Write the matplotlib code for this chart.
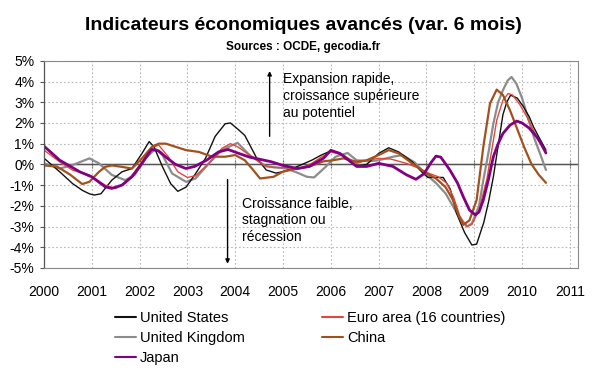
import matplotlib
matplotlib.use("Agg")
import matplotlib.pyplot as plt
from matplotlib.ticker import FuncFormatter

plt.rcParams['font.family'] = ['Liberation Sans', 'DejaVu Sans']

# ---------------- data ----------------
years = list(range(2000, 2012))
y_ticks = list(range(-5, 6))

us_t = [2000.0, 2000.33, 2000.6, 2000.8, 2000.95, 2001.05, 2001.19, 2001.42, 2001.63, 2001.84, 2002.05,
        2002.2, 2002.3, 2002.48, 2002.65, 2002.8, 2002.97, 2003.17, 2003.38, 2003.58, 2003.79, 2003.9,
        2004.07, 2004.2, 2004.45, 2004.65, 2004.85, 2005.0, 2005.2, 2005.4, 2005.6, 2005.8, 2006.0,
        2006.26, 2006.54, 2006.75, 2007.0, 2007.21, 2007.42, 2007.7, 2007.93, 2008.03, 2008.35,
        2008.5, 2008.63, 2008.8, 2008.95, 2009.05, 2009.2, 2009.3, 2009.4, 2009.5, 2009.6, 2009.68,
        2009.76, 2009.9, 2010.03, 2010.15, 2010.24, 2010.38, 2010.5]
us_v = [0.3, -0.36, -0.93, -1.25, -1.42, -1.48, -1.42, -0.76, -0.36, -0.2, 0.53,
        1.1, 0.85, -0.12, -0.93, -1.3, -1.1, -0.45, 0.3, 1.35, 1.96, 2.0,
        1.67, 1.4, 0.3, -0.27, -0.42, -0.35, -0.2, 0.0, 0.2, 0.45, 0.65,
        0.45, -0.1, 0.0, 0.53, 0.8, 0.6, 0.13, -0.43, -0.63, -0.63,
        -1.2, -2.36, -3.3, -3.89, -3.85, -2.8, -1.8, -0.6, 0.9, 2.4, 3.0,
        3.34, 3.2, 2.78, 2.3, 1.81, 1.2, 0.69]

euro_t = [2000.0, 2000.33, 2000.6, 2000.95, 2001.28, 2001.5, 2001.7, 2001.9, 2002.12, 2002.3, 2002.4,
          2002.6, 2002.8, 2003.0, 2003.17, 2003.45, 2003.72, 2003.9, 2004.05, 2004.3, 2004.6, 2004.8,
          2005.0, 2005.35, 2005.6, 2005.8, 2006.0, 2006.26, 2006.54, 2006.75, 2007.0, 2007.25, 2007.58,
          2007.86, 2008.05, 2008.25, 2008.42, 2008.57, 2008.7, 2008.84, 2008.95, 2009.1, 2009.26, 2009.36,
          2009.47, 2009.6, 2009.71, 2009.8, 2009.95, 2010.1, 2010.25, 2010.38, 2010.5]
euro_v = [0.69, 0.12, -0.28, -0.52, -1.0, -1.16, -0.92, -0.36, 0.37, 0.85, 0.93,
          0.37, -0.36, -0.63, -0.55, 0.05, 0.77, 1.0, 0.85, 0.45, -0.05, -0.15,
          -0.15, -0.2, 0.05, 0.35, 0.6, 0.45, 0.05, 0.2, 0.29, 0.26, 0.05,
          -0.2, -0.43, -0.6, -0.9, -1.6, -2.5, -3.0, -2.9, -2.2, -0.76, 0.6,
          2.13, 3.1, 3.42, 3.35, 2.9, 2.3, 1.6, 1.0, 0.53]

uk_t = [2000.0, 2000.33, 2000.6, 2000.95, 2001.15, 2001.42, 2001.7, 2001.9, 2002.12, 2002.33, 2002.48,
        2002.68, 2002.97, 2003.17, 2003.45, 2003.72, 2004.05, 2004.3, 2004.65, 2005.07, 2005.3, 2005.5,
        2005.65, 2005.9, 2006.1, 2006.35, 2006.54, 2006.8, 2007.0, 2007.3, 2007.5, 2007.75, 2008.0,
        2008.2, 2008.4, 2008.55, 2008.7, 2008.85, 2008.95, 2009.1, 2009.19, 2009.3, 2009.4, 2009.5,
        2009.6, 2009.7, 2009.78, 2009.88, 2010.0, 2010.13, 2010.25, 2010.38, 2010.5]
uk_v = [0.05, -0.2, -0.03, 0.29, 0.05, -0.51, -0.76, -0.5, 0.29, 0.75, 0.45,
        -0.44, -0.84, -0.68, 0.05, 0.69, 1.04, 0.45, -0.1, -0.2, -0.4, -0.6,
        -0.63, -0.1, 0.37, 0.55, 0.2, 0.15, 0.2, 0.37, 0.45, 0.1, -0.5,
        -0.9, -1.4, -2.0, -2.6, -3.0, -2.85, -2.0, -0.76, 0.6, 1.97, 3.0,
        3.58, 4.05, 4.22, 3.9, 3.2, 2.2, 1.3, 0.5, -0.27]

china_t = [2000.0, 2000.27, 2000.55, 2000.8, 2000.95, 2001.15, 2001.28, 2001.42, 2001.63, 2001.84, 2002.05,
           2002.26, 2002.4, 2002.55, 2002.75, 2002.97, 2003.24, 2003.52, 2003.79, 2004.0, 2004.2, 2004.35,
           2004.52, 2004.8, 2005.0, 2005.3, 2005.55, 2005.85, 2006.05, 2006.26, 2006.54, 2006.75, 2007.0,
           2007.21, 2007.42, 2007.7, 2008.0, 2008.2, 2008.4, 2008.55, 2008.68, 2008.77, 2008.9, 2009.05,
           2009.19, 2009.33, 2009.47, 2009.6, 2009.75, 2009.9, 2010.05, 2010.2, 2010.35, 2010.5]
china_v = [-0.05, -0.1, -0.5, -0.95, -0.84, -0.36, -0.12, -0.05, -0.12, -0.2, 0.29,
           0.85, 1.0, 1.0, 0.85, 0.69, 0.6, 0.37, 0.37, 0.45, 0.2, -0.2,
           -0.68, -0.6, -0.35, -0.2, -0.1, 0.15, 0.2, 0.29, 0.13, 0.2, 0.45,
           0.69, 0.53, 0.05, -0.43, -0.68, -1.1, -1.7, -2.5, -2.92, -2.7, -1.72,
           0.85, 2.94, 3.61, 3.35, 2.6, 1.7, 0.8, 0.0, -0.5, -0.89]

japan_t = [2000.0, 2000.33, 2000.75, 2001.0, 2001.28, 2001.42, 2001.63, 2001.84, 2002.05, 2002.25, 2002.4,
           2002.55, 2002.75, 2002.97, 2003.15, 2003.4, 2003.65, 2003.85, 2004.05, 2004.3, 2004.75, 2005.0,
           2005.3, 2005.55, 2005.85, 2006.0, 2006.19, 2006.54, 2006.75, 2007.0, 2007.3, 2007.58, 2007.78,
           2007.95, 2008.1, 2008.2, 2008.3, 2008.49, 2008.65, 2008.77, 2008.9, 2009.02, 2009.1, 2009.19,
           2009.3, 2009.4, 2009.5, 2009.6, 2009.75, 2009.89, 2010.0, 2010.15, 2010.3, 2010.4, 2010.5]
japan_v = [0.88, 0.2, -0.36, -0.6, -1.08, -1.16, -1.0, -0.6, 0.05, 0.72, 0.65,
           0.35, 0.0, -0.2, -0.1, 0.2, 0.6, 0.72, 0.55, 0.35, 0.13, -0.05,
           -0.2, -0.1, 0.3, 0.68, 0.53, -0.1, -0.1, 0.05, -0.1, -0.5, -0.72,
           -0.45, 0.1, 0.4, 0.35, -0.27, -0.9, -1.56, -2.2, -2.44, -2.3, -1.72,
           -0.7, 0.37, 1.0, 1.49, 1.9, 2.09, 2.0, 1.75, 1.35, 1.0, 0.55]

# ---------------- figure ----------------
fig = plt.figure(figsize=(6, 3.72), dpi=100)
ax = fig.add_axes([0.0733, 0.2796, 0.89, 0.557])

ax.set_xlim(2000, 2011.17)
ax.set_ylim(-5, 5)

ax.set_xticks(years)
ax.set_yticks(y_ticks)
ax.grid(True, color='#b8b8b8', linestyle=(0, (1.5, 2)), linewidth=0.8)
ax.set_axisbelow(True)

for sp in ['top', 'right', 'bottom']:
    ax.spines[sp].set_color('#8a8a8a')
    ax.spines[sp].set_linewidth(0.8)
ax.spines['left'].set_color('#555555')
ax.spines['left'].set_linewidth(0.9)

ax.yaxis.set_major_formatter(FuncFormatter(lambda v, p: f"{int(v)}%"))
ax.tick_params(axis='y', length=3, width=0.8, color='#555555', pad=4, labelsize=10)
ax.tick_params(axis='x', length=0, pad=12, labelsize=10)

# zero axis with year ticks
ax.axhline(0, color='#555555', lw=1.0, zorder=1.5)
sec = ax.secondary_xaxis(0.5)
sec.set_xticks(years)
sec.set_xticklabels([])
sec.tick_params(direction='inout', length=6, width=0.8, color='#555555')
sec.spines['bottom'].set_visible(False)

l_uk, = ax.plot(uk_t, uk_v, color='#8c8c8c', lw=1.6, label='United Kingdom')
l_us, = ax.plot(us_t, us_v, color='#111111', lw=1.0, label='United States')
l_eu, = ax.plot(euro_t, euro_v, color='#e0483e', lw=1.0, label='Euro area (16 countries)')
l_cn, = ax.plot(china_t, china_v, color='#a4501c', lw=1.6, label='China')
l_jp, = ax.plot(japan_t, japan_v, color='#820082', lw=2.0, label='Japan')
for l in (l_uk, l_us, l_eu, l_cn, l_jp):
    l.set_solid_joinstyle('round')
    l.set_solid_capstyle('round')

# annotations
ax.annotate('', xy=(2004.72, 4.64), xytext=(2004.72, 1.22),
            arrowprops=dict(arrowstyle='-|>', color='black', lw=1.0, mutation_scale=6))
ax.text(2005.0, 4.45, "Expansion rapide,\ncroissance supérieure\nau potentiel",
        ha='left', va='top', fontsize=10, linespacing=1.25)
ax.annotate('', xy=(2003.84, -4.93), xytext=(2003.84, -0.6),
            arrowprops=dict(arrowstyle='-|>', color='black', lw=1.0, mutation_scale=6))
ax.text(2004.14, -1.55, "Croissance faible,\nstagnation ou\nrécession",
        ha='left', va='top', fontsize=10, linespacing=1.25)

fig.text(0.505, 1 - 26 / 372, "Indicateurs économiques avancés (var. 6 mois)",
         ha='center', va='center', fontsize=14, fontweight='bold')
fig.text(0.505, 1 - 47 / 372, "Sources : OCDE, gecodia.fr",
         ha='center', va='center', fontsize=8.5, fontweight='bold')

handles = [l_us, l_uk, l_jp, l_eu, l_cn]
leg = fig.legend(handles, [h.get_label() for h in handles], ncol=2, frameon=False,
                 loc='upper left', bbox_to_anchor=(115 / 600, 1 - 311 / 372),
                 fontsize=10.5, handlelength=1.45, handletextpad=0.25,
                 columnspacing=5.3, labelspacing=0.4, borderpad=0, borderaxespad=0)
for lh in leg.get_lines():
    lh.set_linewidth(1.5)

fig.savefig('out.png', dpi=100)
